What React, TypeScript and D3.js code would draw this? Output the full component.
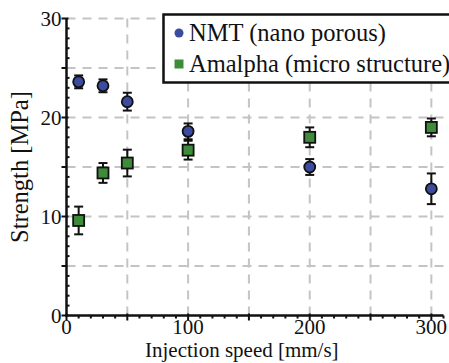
import React from 'react'
import * as d3 from 'd3'

const speeds = [10, 30, 50, 100, 200, 300]
const nmtMean = [23.6, 23.2, 21.6, 18.6, 15.0, 12.8]
const nmtErr = [0.65, 0.65, 0.9, 0.8, 0.8, 1.55]
const amalphaMean = [9.6, 14.4, 15.4, 16.7, 18.0, 19.0]
const amalphaErr = [1.4, 1.0, 1.35, 0.95, 1.0, 0.9]
const xTicks = [0, 100, 200, 300]
const yTicks = [0, 10, 20, 30]
const xGrid = [50, 100, 150, 200, 250, 300]
const yGrid = [5, 10, 15, 20, 25, 30]
const seriesNames = ['NMT (nano porous)', 'Amalpha (micro structure)']

const W = 449
const H = 363
const font = 'Liberation Serif, DejaVu Serif, Times New Roman, serif'
const blue = '#3b4ba0'
const green = '#3e8c3a'

export default function App() {
  const x = d3.scaleLinear().domain([0, 310]).range([66.5, 443.5])
  const y = d3.scaleLinear().domain([0, 30]).range([315.5, 18.5])

  const xMinor = d3.range(0, 311, 10).filter(v => v % 50 !== 0)
  const yMinor = d3.range(0, 31, 1).filter(v => v % 5 !== 0)

  const errBar = (xs: number[], m: number[], e: number[], key: string) =>
    xs.map((s, i) => {
      const cx = x(s)
      const y1 = y(m[i] + e[i])
      const y2 = y(m[i] - e[i])
      return (
        <g key={key + i} stroke="#111" strokeWidth={2}>
          <line x1={cx} x2={cx} y1={y1} y2={y2} />
          <line x1={cx - 4.5} x2={cx + 4.5} y1={y1} y2={y1} />
          <line x1={cx - 4.5} x2={cx + 4.5} y1={y2} y2={y2} />
        </g>
      )
    })

  return (
    <svg width={W} height={H}
      style={{ position: 'absolute', left: 0, top: 0, background: '#fff' }}>
      {/* grid */}
      <g stroke="#c4c4c4" strokeWidth={2} strokeDasharray="9,7">
        {xGrid.map(v => (
          <line key={'gx' + v} x1={x(v)} x2={x(v)} y1={y(30)} y2={y(0)} />
        ))}
        {yGrid.map(v => (
          <line key={'gy' + v} x1={x(0)} x2={x(310)} y1={y(v)} y2={y(v)} />
        ))}
      </g>

      {/* axes */}
      <g stroke="#111" strokeWidth={2.5}>
        <line x1={x(0)} x2={x(0)} y1={y(30)} y2={y(0) + 1} />
        <line x1={x(0) - 1} x2={x(310)} y1={y(0)} y2={y(0)} />
      </g>
      <g stroke="#111" strokeWidth={2}>
        {yTicks.map(v => (
          <line key={'yt' + v} x1={x(0) - 5} x2={x(0) + 2} y1={y(v)} y2={y(v)} />
        ))}
        {yGrid.filter(v => v % 10 !== 0).map(v => (
          <line key={'yt5' + v} x1={x(0) - 5} x2={x(0)} y1={y(v)} y2={y(v)} />
        ))}
        {yMinor.map(v => (
          <line key={'ym' + v} x1={x(0)} x2={x(0) + 3} y1={y(v)} y2={y(v)} />
        ))}
        {xTicks.map(v => (
          <line key={'xt' + v} x1={x(v)} x2={x(v)} y1={y(0) - 2} y2={y(0) + 5} />
        ))}
        {xGrid.filter(v => v % 100 !== 0).map(v => (
          <line key={'xt5' + v} x1={x(v)} x2={x(v)} y1={y(0) - 2} y2={y(0) + 5} />
        ))}
        {xMinor.map(v => (
          <line key={'xm' + v} x1={x(v)} x2={x(v)} y1={y(0)} y2={y(0) + 3} />
        ))}
      </g>

      {/* error bars */}
      {errBar(speeds, nmtMean, nmtErr, 'ne')}
      {errBar(speeds, amalphaMean, amalphaErr, 'ae')}

      {/* markers */}
      {speeds.map((s, i) => (
        <circle key={'n' + i} cx={x(s)} cy={y(nmtMean[i])} r={5.5} fill={blue} stroke="#111" strokeWidth={1.8} />
      ))}
      {speeds.map((s, i) => (
        <rect key={'a' + i} x={x(s) - 5.5} y={y(amalphaMean[i]) - 5.5} width={11} height={11}
          fill={green} stroke="#111" strokeWidth={1.8} />
      ))}

      {/* legend */}
      <rect x={163.5} y={14.5} width={W} height={68} fill="#fff" stroke="#111" strokeWidth={2.5} />
      <circle cx={179} cy={33} r={4.5} fill={blue} />
      <rect x={174.5} y={59.5} width={9} height={9} fill={green} />

      <g fontFamily={font} fill="#111">
        <g fontSize={21}>
          {yTicks.map(v => (
            <text key={'yl' + v} x={x(0) - 5} y={y(v)} dy="0.35em" textAnchor="end">{v}</text>
          ))}
          {xTicks.map(v => (
            <text key={'xl' + v} x={x(v)} y={334} textAnchor="middle">{v}</text>
          ))}
          <text x={145} y={357}>Injection speed [mm/s]</text>
        </g>
        <text transform="translate(28,167) rotate(-90)" textAnchor="middle" fontSize={24.5}>
          Strength [MPa]
        </text>
        <g fontSize={24.5}>
          <text x={189} y={41}>{seriesNames[0]}</text>
          <text x={189} y={72}>{seriesNames[1]}</text>
        </g>
      </g>
    </svg>
  )
}
